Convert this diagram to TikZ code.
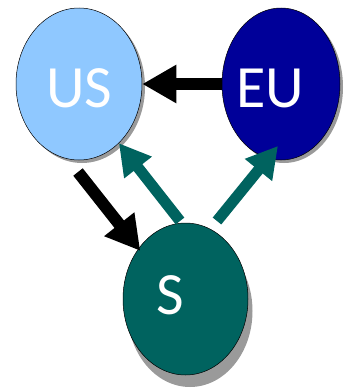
\documentclass[tikz,border=0pt]{standalone}
\usepackage{fontspec}
\setmainfont{Carlito}
\usetikzlibrary{shapes.geometric,arrows.meta}
\definecolor{usblue}{HTML}{8FC8FF}
\definecolor{eublue}{HTML}{000099}
\definecolor{steal}{HTML}{00635F}
\definecolor{shadowgrey}{HTML}{9A9A9A}
\tikzset{
  blob/.style={ellipse, draw=black, line width=0.5pt, inner sep=0pt},
  shadowblob/.style={ellipse, fill=shadowgrey, inner sep=0pt},
  lbl/.style={text=white, font=\fontsize{60}{60}\selectfont, anchor=base, inner sep=0pt},
  bigarrow/.style={line width=12pt, -{Triangle[width=36pt,length=34pt]}},
}
\begin{document}
\begin{tikzpicture}[x=1pt,y=-1pt]
\useasboundingbox (0,0) rectangle (343,388);
% shadows
\node[shadowblob, minimum width=126pt, minimum height=152pt] at (82,87) {};
\node[shadowblob, minimum width=118pt, minimum height=152pt] at (284,87) {};
\node[shadowblob, minimum width=125pt, minimum height=152pt] at (190,311) {};
% ellipses
\node[blob, fill=usblue, minimum width=126pt, minimum height=152pt] (us) at (79,84) {};
\node[blob, fill=eublue, minimum width=118pt, minimum height=152pt] (eu) at (281,84) {};
\node[blob, fill=steal, minimum width=125pt, minimum height=152pt] (s) at (185.5,299) {};
% labels
\node[lbl] (uslbl) at (79.5,107) {US};
\node[lbl] (eulbl) at (270.5,107) {EU};
\node[lbl] (slbl) at (170,314) {S};
% free ends
\coordinate (usTail) at (78,172);
\coordinate (sTailL) at (180,221);
\coordinate (sTailR) at (217,221);
% arrows
\draw[bigarrow, black] (eu.west) -- (us.east);
\draw[bigarrow, black, shorten >=-3pt] (usTail) -- (s.133);
\draw[bigarrow, steal, line width=11pt, -{Triangle[width=33pt,length=31pt]}] (sTailL) -- (us.-56);
\draw[bigarrow, steal, line width=11pt, -{Triangle[width=33pt,length=31pt]}, shorten >=-16pt] (sTailR) -- (eu.-100.7);
\end{tikzpicture}
\end{document}
